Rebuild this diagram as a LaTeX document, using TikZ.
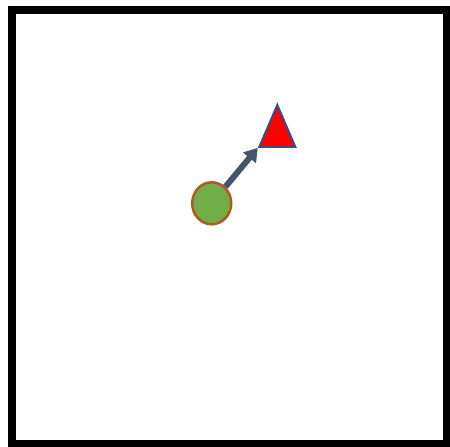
\documentclass[tikz,border=0pt]{standalone}
\usepackage{tikz}
\usetikzlibrary{shapes.geometric, arrows.meta}
\definecolor{verde}{HTML}{70AD47}
\definecolor{cobre}{HTML}{AE5A21}
\definecolor{azulborde}{HTML}{2F528F}
\definecolor{pizarra}{HTML}{44546A}
\tikzset{
  marco/.style={draw=black, line width=8pt},
  bola/.style={ellipse, draw=cobre, fill=verde, line width=2.5pt,
               minimum width=39pt, minimum height=42pt, inner sep=0pt},
  meta/.style={isosceles triangle, isosceles triangle stretches, shape border rotate=90,
               draw=azulborde, fill=red, line width=2pt,
               minimum width=36pt, minimum height=42pt, inner sep=0pt},
  flecha/.style={line width=6pt, color=pizarra, -{Triangle[length=13pt, width=16pt]}}
}
\begin{document}
\begin{tikzpicture}[x=1pt, y=1pt]
  \useasboundingbox (0,0) rectangle (450,447);
  % marco exterior
  \draw [marco] (12,3) rectangle (446.5,437);
  % bola y meta
  \node (bola) [bola] at (211.7,243.7) {};
  \node (meta) [meta] at (277.3,312) {};
  \draw [flecha] (bola) -- (meta.left corner);
\end{tikzpicture}
\end{document}
